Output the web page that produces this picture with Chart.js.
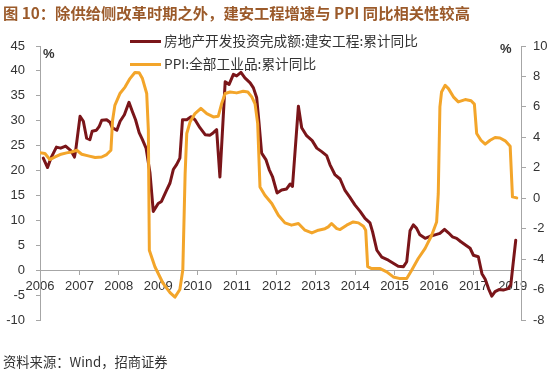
<!DOCTYPE html>
<html>
<head>
<meta charset="utf-8">
<script src="https://cdn.jsdelivr.net/npm/chart.js@4.4.1/dist/chart.umd.min.js"></script>
<style>
  html, body { margin: 0; padding: 0; background: #fff; }
  #wrap { position: relative; width: 550px; height: 370px; overflow: hidden; }
  #chart { position: absolute; left: 0; top: 0; }
  .title { position: absolute; left: 3px; top: 2px; font: bold 15.3px "Noto Sans CJK SC", sans-serif; line-height: 20px; color: #9b5a2a; white-space: nowrap; }
  .src { position: absolute; left: 3px; top: 353px; font: 13.3px "Noto Sans CJK SC", sans-serif; line-height: 18px; color: #333; white-space: nowrap; }
  .leg { position: absolute; left: 130px; font: 13.7px "Noto Sans CJK SC", sans-serif; line-height: 18px; color: #333; white-space: nowrap; }
  .leg i { display: inline-block; width: 31px; height: 3px; vertical-align: middle; margin-right: 3px; position: relative; top: -1px; }
  .pct { position: absolute; font: bold 13px "Liberation Sans", Arial, sans-serif; line-height: 16px; color: #333; }
</style>
</head>
<body>
<div id="wrap">
  <canvas id="chart" width="550" height="370"></canvas>
  <div class="title">图 10：除供给侧改革时期之外，建安工程增速与 PPI 同比相关性较高</div>
  <div id="legend"></div>
  <div class="pct" style="left:43px;top:46px">%</div>
  <div class="pct" style="left:500px;top:41px">%</div>
  <div class="src">资料来源：Wind，招商证券</div>
</div>
<script>
// period index: 0 = start of 2006, 12 steps per axis tick
const yearTickIdx = [0, 12, 24, 36, 48, 60, 72, 84, 96, 108, 120, 132, 144];
const yearLabels  = ["2006", "2007", "2008", "2009", "2010", "2011", "2012", "2013", "2014", "2015", "2016", "2017", "2019"];

const seriesNames = ["房地产开发投资完成额:建安工程:累计同比", "PPI:全部工业品:累计同比"];
const seriesColors = ["#7a1519", "#f3a52a"];

// 建安工程 累计同比 (left axis, %)
const buildIdx = [1, 2.3, 3.4, 5, 6.3, 7.8, 9.4, 10.5, 10.9, 12.2, 13.2, 14.2, 15.2, 15.9, 17.2, 18, 18.8, 20.3, 21.3, 22, 23.4,
  24.4, 25.7, 27.1, 28.1, 29.1, 30.2, 31.2, 32.3, 33.5, 34.5, 36, 37, 38.6, 39.6, 40.6, 41.6, 42.6, 43.4, 44.7, 46, 47.2,
  48.7, 50.3, 51.8, 52.8, 53.8, 54.8, 56.4, 57.6, 58.9, 59.9, 61.2, 62.4, 64, 65, 66, 66.7, 67.5, 68.8, 69.8, 70.8, 72.2,
  73.6, 75.1, 76.2, 76.9, 78.7, 79.7, 81.2, 82.9, 84.3, 85.8, 87.3, 88.3, 89.8, 91.4, 92.9, 94.4, 95.9, 97.5, 99, 100.5,
  101.3, 102.6, 104.1, 106.1, 107.6, 109.1, 110.7, 111.7, 112.7, 113.7, 114.7, 115.7, 117.3, 118.8, 120.3, 121.8, 123.2,
  124.4, 125.6, 126.9, 128.2, 129.7, 131, 132, 133.5, 134.6, 135.6, 136.6, 137.6, 138.6, 139.8, 141.1, 142.6, 143.4, 144.1, 144.9];
const buildVal = [22.5, 20.6, 22.6, 24.7, 24.5, 24.9, 24.0, 22.7, 24.2, 30.9, 29.9, 26.5, 26.2, 27.9, 28.1, 28.8, 30.1, 30.2, 29.7, 28.6, 28.1,
  29.9, 31.2, 33.7, 31.9, 30.2, 27.6, 26.2, 24.5, 19.5, 11.8, 13.4, 13.8, 16.1, 17.5, 20.2, 21.2, 22.5, 30.2, 30.2, 30.8, 30.2,
  28.6, 27.2, 27.1, 27.6, 28.2, 18.7, 37.8, 37.3, 39.3, 39.0, 39.7, 38.6, 37.6, 36.6, 34.6, 29.6, 23.5, 22.2, 20.2, 18.8, 15.5,
  16.1, 16.3, 17.3, 16.8, 32.9, 28.6, 27.0, 26.0, 24.5, 23.8, 23.0, 21.2, 19.2, 18.3, 16.0, 14.6, 13.1, 11.8, 10.4, 9.5,
  7.7, 4.0, 2.6, 2.0, 1.4, 0.8, 0.7, 1.7, 7.9, 9.1, 8.4, 7.1, 6.4, 6.8, 7.1, 7.4, 8.2,
  7.5, 6.7, 6.4, 5.7, 5.0, 4.4, 3.0, 2.7, -0.7, -1.8, -3.7, -5.2, -4.3, -3.9, -4.0, -3.7, -2.9, 1.3, 6.0];

// PPI 累计同比 (right axis, %)
const ppiIdx = [0, 1.5, 3, 4.6, 6.1, 8.1, 9.6, 11.2, 12.7, 14.7, 16.8, 18.8, 20.3, 21.6, 22.1, 22.8, 24.4, 25.9, 27.4, 28.9,
  30.2, 31.2, 32.5, 33, 33.3, 35, 37.5, 39.6, 41.1, 42.6, 43.5, 44.2, 44.7, 45.7, 47.2, 49, 50.8, 52.8, 54.3, 55.3, 56.4,
  57.9, 59.9, 61.9, 63.3, 64.5, 65.5, 66.3, 67, 68.5, 70.6, 72.6, 74.6, 76.6, 78.7, 80.7, 82.8, 84.8, 86.8, 87.8, 88.8,
  90.4, 91.4, 93.4, 95.4, 97, 98.5, 99.2, 99.8, 101, 103.6, 105.6, 107.6, 109.7, 111.7, 113.2, 115.2, 117.3, 119.3, 120.8,
  121.3, 121.8, 122.3, 123.4, 124.4, 125.9, 127.4, 129.5, 131.3, 132.3, 133, 134.3, 135.6, 137.1, 138.6, 140.1, 141.7,
  143.2, 143.9, 145.2];
const ppiVal = [2.98, 2.94, 2.54, 2.71, 2.87, 2.98, 3.04, 3.15, 2.89, 2.78, 2.67, 2.71, 2.87, 3.15, 5.1, 6.1, 6.9, 7.3, 7.86, 8.26,
  8.24, 7.86, 6.88, 4.47, -3.42, -4.5, -5.6, -6.2, -6.5, -6.0, -4.7, 1.6, 4.25, 5.0, 5.56, 5.9, 5.56, 5.34, 5.39, 6.2, 6.88,
  6.98, 6.92, 7.03, 6.98, 6.66, 6.2, 4.9, 0.74, 0.2, -0.35, -1.12, -1.62, -1.77, -1.66, -2.1, -2.28, -2.1, -2.0, -1.88, -1.66,
  -2.0, -2.06, -1.77, -1.56, -1.62, -1.84, -2.1, -4.5, -4.62, -4.62, -4.84, -5.17, -5.28, -5.28, -4.73, -3.96, -3.3, -2.43, -1.56,
  0.3, 6.0, 6.98, 7.42, 7.2, 6.66, 6.33, 6.48, 6.4, 6.18, 4.25, 3.81, 3.55, 3.81, 3.99, 3.96, 3.77,
  3.42, 0.09, 0.02];

const AXIS = "#a6a6a6";
const TICK_TEXT = "#333";
const tickFont = { family: "'Liberation Sans', Arial, sans-serif", size: 13 };

function toPoints(xs, ys) {
  return xs.map((x, i) => ({ x: x, y: ys[i] }));
}

// legend
document.getElementById("legend").innerHTML = seriesNames.map((name, i) =>
  `<div class="leg" style="top:${31 + i * 23}px"><i style="background:${seriesColors[i]}"></i>${name}</div>`
).join("");

new Chart(document.getElementById("chart"), {
  type: "line",
  data: {
    datasets: [
      {
        label: seriesNames[1],
        data: toPoints(ppiIdx, ppiVal),
        yAxisID: "y1",
        borderColor: seriesColors[1],
        borderWidth: 3,
        pointRadius: 0,
        tension: 0,
        borderJoinStyle: "round",
        borderCapStyle: "round"
      },
      {
        label: seriesNames[0],
        data: toPoints(buildIdx, buildVal),
        yAxisID: "y",
        borderColor: seriesColors[0],
        borderWidth: 3,
        pointRadius: 0,
        tension: 0,
        borderJoinStyle: "round",
        borderCapStyle: "round"
      }
    ]
  },
  options: {
    responsive: false,
    animation: false,
    layout: { padding: { top: 46, bottom: 50, left: 0, right: 0 } },
    plugins: { legend: { display: false }, tooltip: { enabled: false } },
    scales: {
      x: {
        type: "linear",
        min: 0,
        max: 146.5,
        position: { y: 0 },
        afterBuildTicks: s => { s.ticks = yearTickIdx.map(v => ({ value: v })); },
        ticks: {
          callback: (v, i) => yearLabels[i],
          color: TICK_TEXT, font: tickFont, padding: 4, maxRotation: 0, autoSkip: false
        },
        grid: { drawOnChartArea: false, tickLength: 4, color: AXIS },
        border: { color: AXIS, width: 1 }
      },
      y: {
        position: "left",
        min: -10,
        max: 45,
        ticks: { stepSize: 5, color: TICK_TEXT, font: tickFont, padding: 11 },
        grid: { drawOnChartArea: false, tickLength: 4, color: AXIS },
        border: { color: AXIS, width: 1 },
        afterFit: s => { s.width = 40; }
      },
      y1: {
        position: "right",
        min: -8,
        max: 10,
        ticks: { stepSize: 2, color: TICK_TEXT, font: tickFont, padding: 7 },
        grid: { drawOnChartArea: false, tickLength: 5, color: AXIS },
        border: { color: AXIS, width: 1 },
        afterFit: s => { s.width = 29; }
      }
    }
  }
});
</script>
</body>
</html>
